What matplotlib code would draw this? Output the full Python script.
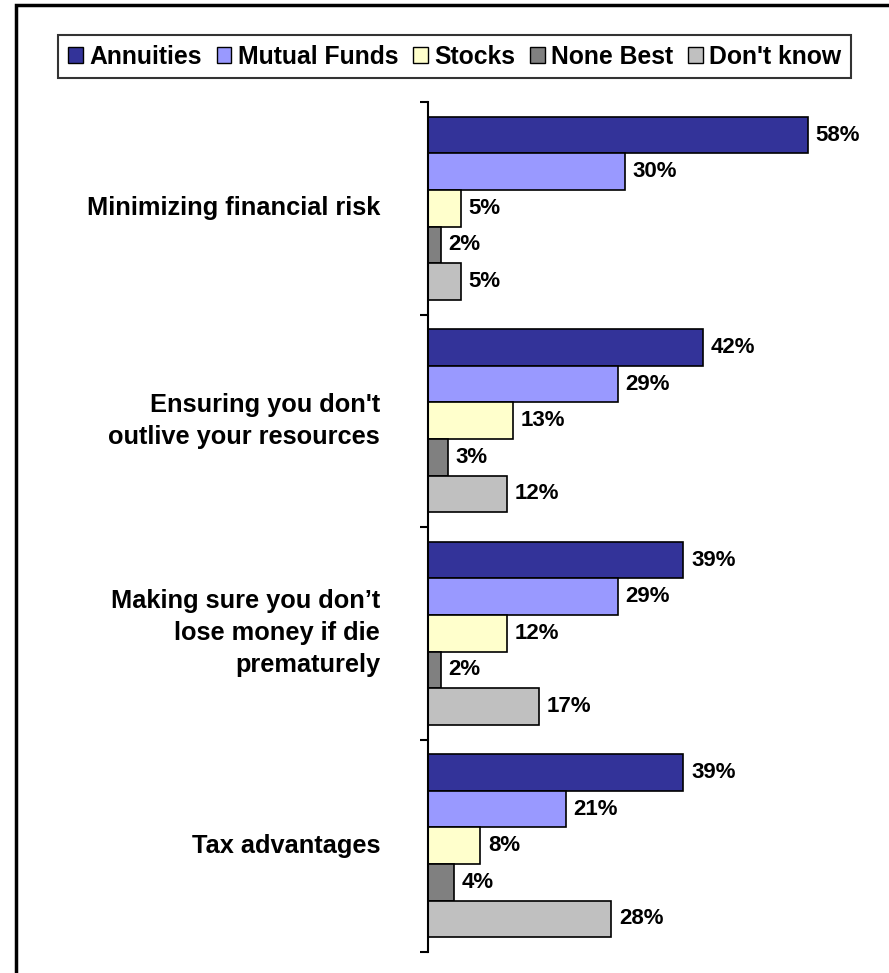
import numpy as np
import matplotlib.pyplot as plt
from matplotlib.patches import Patch, Rectangle
from matplotlib.transforms import blended_transform_factory

plt.rcParams['font.family'] = ['Liberation Sans', 'DejaVu Sans']
plt.rcParams['font.weight'] = 'bold'

# survey data: which product is best for each goal (%)
categories = [
    'Minimizing financial risk',
    "Ensuring you don't\noutlive your resources",
    'Making sure you don\u2019t\nlose money if die\nprematurely',
    'Tax advantages',
]
series = ['Annuities', 'Mutual Funds', 'Stocks', 'None Best', "Don't know"]
annuities = [58, 42, 39, 39]
mutual_funds = [30, 29, 29, 21]
stocks = [5, 13, 12, 8]
none_best = [2, 3, 2, 4]
dont_know = [5, 12, 17, 28]
colors = ['#333399', '#9999FF', '#FFFFCC', '#808080', '#C0C0C0']

values = [annuities, mutual_funds, stocks, none_best, dont_know]

W, H = 889, 973
fig = plt.figure(figsize=(W / 100, H / 100), dpi=100)

# axes placed in pixel terms
ax_left, ax_right, ax_top, ax_bottom = 428, 870, 102, 952
ax = fig.add_axes([ax_left / W, 1 - ax_bottom / H,
                   (ax_right - ax_left) / W, (ax_bottom - ax_top) / H])

n_cat = len(categories)
bar_h = 0.172
y_base = np.arange(n_cat)
for j, (name, vals, col) in enumerate(zip(series, values, colors)):
    ys = y_base + (j - 2) * bar_h
    ax.barh(ys, vals, height=bar_h, color=col, edgecolor='black',
            linewidth=1.2, label=name)
    for y, v in zip(ys, vals):
        ax.annotate(f'{v}%', xy=(v, y), xytext=(5.5, 0),
                    textcoords='offset points', va='center', ha='left',
                    fontsize=16, fontweight='bold')

ax.set_xlim(0, (ax_right - ax_left) / 6.55)
ax.set_ylim(n_cat - 0.5, -0.5)

# category labels to the left of the axis
trans = blended_transform_factory(ax.transAxes, ax.transData)
for y, cat in zip(y_base, categories):
    ax.annotate(cat, xy=(0, y), xycoords=trans, xytext=(-34.5, 0),
                textcoords='offset points', ha='right', va='center',
                multialignment='right', fontsize=18.3, fontweight='bold',
                linespacing=1.42)

ax.set_yticks(np.arange(-0.5, n_cat, 1.0))
ax.set_yticklabels([])
ax.tick_params(axis='y', direction='out', length=6, width=1.5, color='black')
ax.set_xticks([])
for side in ['top', 'right', 'bottom']:
    ax.spines[side].set_visible(False)
ax.spines['left'].set_linewidth(1.5)

handles = [Patch(facecolor=c, edgecolor='black', linewidth=1.0) for c in colors]
leg = fig.legend(handles, series, ncol=5, loc='center',
                 bbox_to_anchor=((57 + 852) / 2 / W, 1 - 56.5 / H),
                 prop={'size': 17.8, 'weight': 'bold'},
                 handlelength=0.6, handleheight=0.6, handletextpad=0.25,
                 columnspacing=0.6, borderpad=0.4, fancybox=False,
                 frameon=True, borderaxespad=0)
leg.get_frame().set_edgecolor('black')
leg.get_frame().set_linewidth(1.5)

# outer frame, only top and left edges fall inside the image
fig.patches.append(Rectangle((16 / W, -0.1), 1.2, 1 - 5 / H + 0.1,
                             transform=fig.transFigure, fill=False,
                             edgecolor='black', linewidth=2.5))

fig.savefig('out.png', dpi=100)
